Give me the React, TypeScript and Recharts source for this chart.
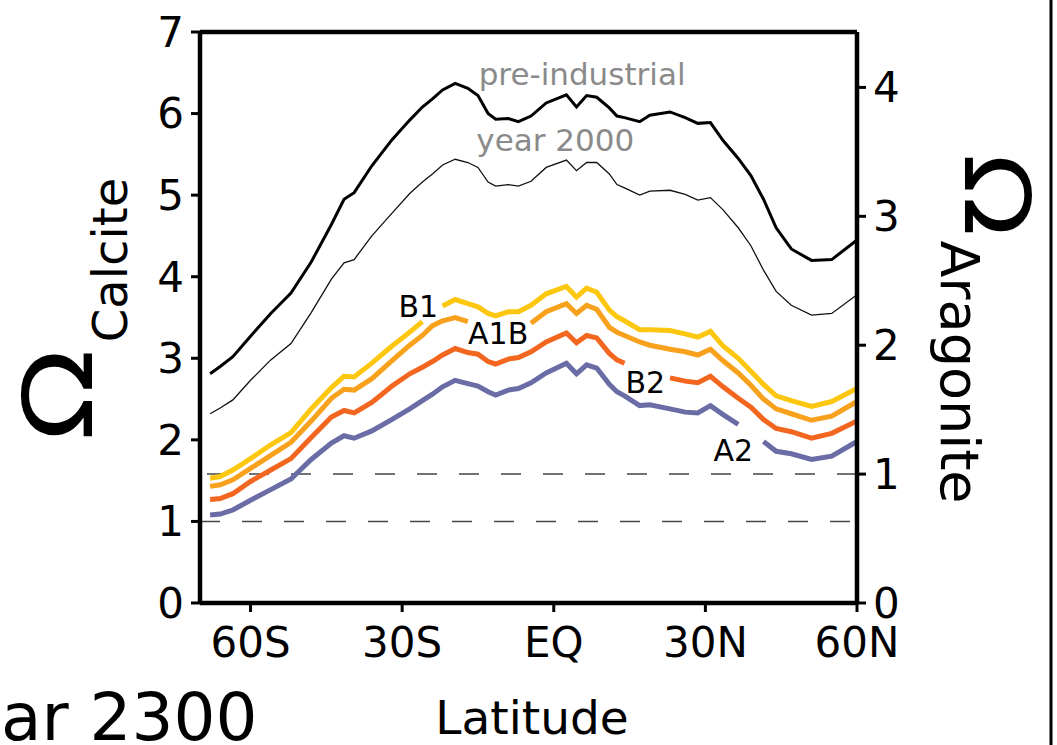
import React from "react"
import { LineChart, Line, XAxis, YAxis, ReferenceLine, ReferenceDot } from "recharts"

// latitude grid (negative = south)
const LAT = [
  -68, -66, -63.5, -60, -56, -52, -48, -44, -41.5, -39.5, -36, -32, -28.5, -26, -24, -22, -19.5, -17, -15, -13,
  -11.5, -9, -7, -4.5, -1.5, 2.5, 4.5, 6.5, 8.5, 11, 12.5, 14, 17, 19, 23, 26, 28.5, 31, 33.5, 36.5, 39, 41.5, 44,
  47, 51, 55, 60,
]

// calcite saturation state, zonal mean surface ocean
const PRE_INDUSTRIAL = [
  2.81, 2.9, 3.02, 3.27, 3.55, 3.8, 4.18, 4.64, 4.95, 5.03, 5.36, 5.68, 5.92, 6.08, 6.18, 6.29, 6.37, 6.31, 6.22, 6.0,
  5.93, 5.94, 5.9, 5.97, 6.13, 6.23, 6.08, 6.22, 6.2, 6.07, 5.97, 5.95, 5.9, 5.98, 6.02, 5.95, 5.88, 5.89, 5.67, 5.45,
  5.24, 4.95, 4.6, 4.34, 4.2, 4.21, 4.45,
]
const YEAR_2000 = [
  2.32, 2.39, 2.49, 2.73, 2.98, 3.18, 3.56, 3.97, 4.17, 4.21, 4.5, 4.78, 5.02, 5.16, 5.26, 5.37, 5.44, 5.4, 5.34, 5.16,
  5.11, 5.13, 5.11, 5.17, 5.34, 5.43, 5.3, 5.4, 5.4, 5.26, 5.13, 5.09, 5.0, 5.05, 5.06, 5.01, 4.94, 4.97, 4.82, 4.6,
  4.38, 4.08, 3.82, 3.65, 3.53, 3.55, 3.78,
]
// year 2300 scenarios (null = break for the inline label)
const B1 = [
  1.53, 1.55, 1.63, 1.77, 1.94, 2.09, 2.38, 2.64, 2.78, 2.77, 2.94, 3.15, 3.32, 3.45, null, 3.64, 3.72, 3.67, 3.63,
  3.55, 3.52, 3.57, 3.57, 3.65, 3.79, 3.88, 3.75, 3.86, 3.81, 3.59, 3.51, 3.46, 3.35, 3.35, 3.34, 3.3, 3.26, 3.33,
  3.15, 3.0, 2.84, 2.68, 2.54, 2.48, 2.41, 2.47, 2.63,
]
const A1B = [
  1.43, 1.45, 1.51, 1.65, 1.81, 1.97, 2.23, 2.51, 2.62, 2.61, 2.75, 2.97, 3.16, 3.28, 3.4, 3.46, 3.5, 3.45, null, null,
  null, null, null, 3.43, 3.57, 3.67, 3.55, 3.65, 3.6, 3.38, 3.32, 3.28, 3.2, 3.16, 3.11, 3.08, 3.04, 3.11, 2.97, 2.82,
  2.67, 2.5, 2.38, 2.32, 2.24, 2.29, 2.47,
]
const B2 = [
  1.27, 1.28, 1.34, 1.49, 1.63, 1.77, 2.03, 2.28, 2.36, 2.33, 2.46, 2.66, 2.81, 2.89, 2.96, 3.04, 3.12, 3.07, 3.05,
  2.96, 2.93, 2.99, 3.01, 3.08, 3.2, 3.31, 3.19, 3.28, 3.25, 3.06, 2.98, 2.94, null, null, 2.76, 2.72, 2.7, 2.78, 2.65,
  2.51, 2.4, 2.25, 2.14, 2.1, 2.02, 2.08, 2.23,
]
const A2 = [
  1.08, 1.09, 1.14, 1.26, 1.39, 1.52, 1.76, 1.96, 2.05, 2.02, 2.11, 2.25, 2.38, 2.48, 2.56, 2.65, 2.73, 2.69, 2.66,
  2.59, 2.55, 2.61, 2.63, 2.7, 2.82, 2.94, 2.81, 2.92, 2.88, 2.68, 2.59, 2.54, 2.42, 2.43, 2.38, 2.34, 2.33, 2.42, 2.31,
  2.19, null, 1.98, 1.86, 1.83, 1.76, 1.8, 1.98,
]

const LAT_TICKS = [-60, -30, 0, 30, 60]
const CALCITE_TICKS = [0, 1, 2, 3, 4, 5, 6, 7]
const ARAGONITE_TICKS = [0, 1, 2, 3, 4]

// inline series labels: [text, lat, calcite value]
const SERIES_LABELS: [string, number, number][] = [
  ["B1", -26.8, 3.64],
  ["A1B", -11, 3.3],
  ["B2", 18.1, 2.71],
  ["A2", 35.5, 1.875],
]
const REF_LABELS: [string, number, number][] = [
  ["pre-industrial", 5.6, 6.48],
  ["year 2000", 0.3, 5.67],
]

const FONT = "'DejaVu Sans', Verdana, sans-serif"
const W = 1057
const H = 745

const data = LAT.map((lat, i) => ({
  lat,
  pre: PRE_INDUSTRIAL[i],
  y2000: YEAR_2000[i],
  b1: B1[i],
  a1b: A1B[i],
  b2: B2[i],
  a2: A2[i],
}))

function latLabel(v: number) {
  if (v === 0) return "EQ"
  return `${Math.abs(v)}${v < 0 ? "S" : "N"}`
}

const tickStyle = { fill: "#000", fontSize: 42, fontFamily: FONT }
const axisLine = { stroke: "#000", strokeWidth: 4.5 }
const tickLine = { stroke: "#000", strokeWidth: 3 }

export default function App() {
  return (
    <div style={{ position: "absolute", left: 0, top: 0, width: W, height: H, background: "#fff", overflow: "hidden" }}>
      <LineChart width={W} height={H} data={data} margin={{ top: 32, right: 140, bottom: 82, left: 140 }}>
        <XAxis
          dataKey="lat"
          type="number"
          domain={[-70, 60]}
          ticks={LAT_TICKS}
          tickFormatter={latLabel}
          allowDataOverflow
          height={60}
          tickSize={9}
          tickMargin={15}
          axisLine={axisLine}
          tickLine={tickLine}
          tick={tickStyle}
        />
        <YAxis
          yAxisId="left"
          domain={[0, 7]}
          ticks={CALCITE_TICKS}
          width={60}
          tickSize={9}
          tickMargin={7}
          axisLine={axisLine}
          tickLine={tickLine}
          tick={tickStyle}
        />
        <YAxis
          yAxisId="right"
          orientation="right"
          domain={[0, 4.43]}
          ticks={ARAGONITE_TICKS}
          allowDataOverflow
          width={60}
          tickSize={9}
          tickMargin={7}
          axisLine={axisLine}
          tickLine={tickLine}
          tick={tickStyle}
        />
        {/* top edge of the frame */}
        <ReferenceLine yAxisId="left" y={7} stroke="#000" strokeWidth={4.5} />
        {/* saturation horizon for calcite and aragonite */}
        <ReferenceLine yAxisId="left" y={1} stroke="#444" strokeWidth={1.5} strokeDasharray="20 22" />
        <ReferenceLine yAxisId="right" y={1} stroke="#444" strokeWidth={1.5} strokeDasharray="20 22" />

        <Line yAxisId="left" dataKey="pre" stroke="#000" strokeWidth={3} dot={false} isAnimationActive={false} />
        <Line yAxisId="left" dataKey="y2000" stroke="#111" strokeWidth={1.3} dot={false} isAnimationActive={false} />
        <Line yAxisId="left" dataKey="b1" stroke="#FDC60F" strokeWidth={5} dot={false} isAnimationActive={false} />
        <Line yAxisId="left" dataKey="a1b" stroke="#F7A11D" strokeWidth={5} dot={false} isAnimationActive={false} />
        <Line yAxisId="left" dataKey="b2" stroke="#F3661F" strokeWidth={5} dot={false} isAnimationActive={false} />
        <Line yAxisId="left" dataKey="a2" stroke="#6A6CA6" strokeWidth={5} dot={false} isAnimationActive={false} />

        {SERIES_LABELS.map(([text, lat, v]) => (
          <ReferenceDot
            key={text}
            yAxisId="left"
            x={lat}
            y={v}
            r={0}
            fill="none"
            stroke="none"
            label={{ value: text, position: "center", fontSize: 30, fill: "#000", fontFamily: FONT }}
          />
        ))}
        {REF_LABELS.map(([text, lat, v]) => (
          <ReferenceDot
            key={text}
            yAxisId="left"
            x={lat}
            y={v}
            r={0}
            fill="none"
            stroke="none"
            label={{ value: text, position: "center", fontSize: 31, fill: "#8a8a8a", fontFamily: FONT }}
          />
        ))}
      </LineChart>

      <svg
        width={W}
        height={H}
        style={{ position: "absolute", left: 0, top: 0, pointerEvents: "none" }}
        fontFamily={FONT}
      >
        <text transform="translate(92,395) rotate(-90) scale(1.25,1)" textAnchor="middle" fontSize={96} fill="#000">
          Ω
        </text>
        <text transform="translate(127,260) rotate(-90)" textAnchor="middle" fontSize={48} fill="#000">
          Calcite
        </text>
        <text transform="translate(965,195) rotate(90) scale(1.2,1)" textAnchor="middle" fontSize={90} fill="#000">
          Ω
        </text>
        <text transform="translate(941,372) rotate(90)" textAnchor="middle" fontSize={54} fill="#000">
          Aragonite
        </text>
        <text x={532} y={734} textAnchor="middle" fontSize={47} fill="#000">
          Latitude
        </text>
        <text x={1} y={740} textAnchor="start" fontSize={66} fill="#000">
          ar 2300
        </text>
        <line x1={1051} y1={0} x2={1051} y2={H} stroke="#000" strokeWidth={3} />
      </svg>
    </div>
  )
}
